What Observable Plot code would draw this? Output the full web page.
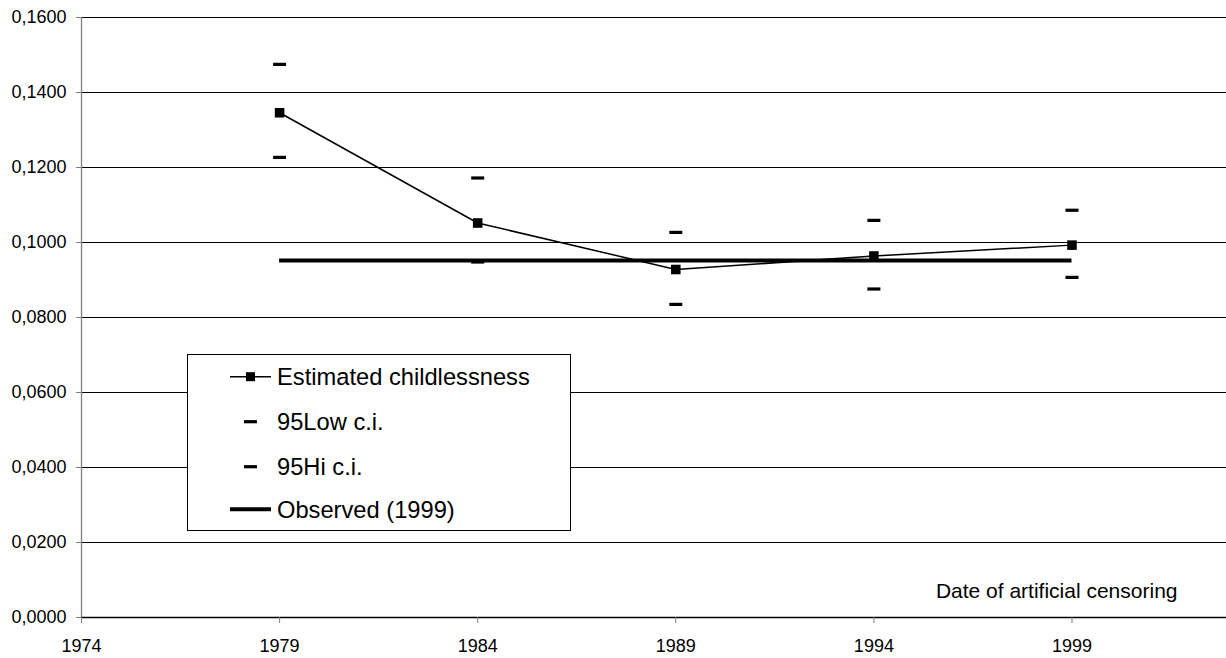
<!DOCTYPE html>
<html>
<head>
<meta charset="utf-8">
<script src="https://cdn.jsdelivr.net/npm/d3@7"></script>
<script src="https://cdn.jsdelivr.net/npm/@observablehq/plot@0.6"></script>
<style>
  html, body { margin: 0; padding: 0; background: #fff; }
  #chart { position: relative; width: 1226px; height: 658px; }
</style>
</head>
<body>
<div id="chart"></div>
<script>
// ---- data ----
const years = [1979, 1984, 1989, 1994, 1999];
const estimated = [0.1346, 0.1052, 0.0928, 0.0964, 0.0993];
const low95 = [0.1227, 0.0948, 0.0835, 0.0876, 0.0907];
const hi95 = [0.1475, 0.1172, 0.1027, 0.1059, 0.1086];
const observed1999 = 0.0952;
const xTicks = [1974, 1979, 1984, 1989, 1994, 1999];
const xDomain = [1974, 2002.9];
const yTicks = [0, 0.02, 0.04, 0.06, 0.08, 0.10, 0.12, 0.14, 0.16];
const seriesNames = ["Estimated childlessness", "95Low c.i.", "95Hi c.i.", "Observed (1999)"];
const axisLabel = "Date of artificial censoring";

const rows = years.map((yr, i) => ({year: yr, est: estimated[i], lo: low95[i], hi: hi95[i]}));

const dash = { draw(context) { context.rect(-6.5, -1.6, 13, 3.2); } };
const fmt = v => d3.format(".4f")(v).replace(".", ",");
const FONT = "'Liberation Sans', Arial, Helvetica, sans-serif";

const plot = Plot.plot({
  width: 1226,
  height: 658,
  marginLeft: 81,
  marginRight: 0,
  marginTop: 17,
  marginBottom: 41,
  style: { fontFamily: FONT, fontSize: "18px", color: "#000", background: "#fff" },
  x: { type: "linear", domain: xDomain },
  y: { domain: [0, 0.16] },
  marks: [
    Plot.gridY(yTicks, { stroke: "#000", strokeOpacity: 1, strokeWidth: 1 }),
    Plot.ruleX([xDomain[0]], { stroke: "#808080", strokeWidth: 1.3 }),
    Plot.ruleY([0], { stroke: "#000", strokeWidth: 1.3 }),
    Plot.axisY(yTicks, { tickFormat: fmt, tickSize: 5, tickPadding: 10, stroke: "#808080", label: null, fontSize: 18 }),
    Plot.axisX(xTicks, { tickFormat: d => String(d), tickSize: 6, tickPadding: 16, stroke: "#808080", label: null, fontSize: 18 }),
    Plot.ruleY([observed1999], { x1: years[0], x2: years[years.length - 1], stroke: "#000", strokeWidth: 4 }),
    Plot.line(rows, { x: "year", y: "est", stroke: "#000", strokeWidth: 1.5 }),
    Plot.dot(rows, { x: "year", y: "est", symbol: "square", r: 5.4, fill: "#000", stroke: "none" }),
    Plot.dot(rows, { x: "year", y: "lo", symbol: dash, fill: "#000", stroke: "none" }),
    Plot.dot(rows, { x: "year", y: "hi", symbol: dash, fill: "#000", stroke: "none" }),
    Plot.text([axisLabel], { frameAnchor: "bottom-right", textAnchor: "end", lineAnchor: "bottom", dx: -49, dy: -20, fontSize: 21, fill: "#000" })
  ]
});
document.getElementById("chart").appendChild(plot);

// ---- legend (drawn into the svg) ----
const svg = d3.select(plot);
const lg = svg.append("g").attr("font-family", FONT).attr("font-size", 23.7).attr("text-anchor", "start");
lg.append("rect").attr("x", 187.5).attr("y", 354.5).attr("width", 383).attr("height", 176)
  .attr("fill", "#fff").attr("stroke", "#000").attr("stroke-width", 1);
const rowY = [376.7, 421.7, 466.7, 509.3];
const symX0 = 230, symX1 = 271, symC = 250.5, textX = 277;
// Estimated
lg.append("line").attr("x1", symX0).attr("x2", symX1).attr("y1", rowY[0]).attr("y2", rowY[0]).attr("stroke", "#000").attr("stroke-width", 1.5);
lg.append("rect").attr("x", symC - 4.5).attr("y", rowY[0] - 4.5).attr("width", 9).attr("height", 9).attr("fill", "#000");
// Low / Hi dashes
[1, 2].forEach(i => lg.append("rect").attr("x", symC - 6.5).attr("y", rowY[i] - 1.6).attr("width", 13).attr("height", 3.2).attr("fill", "#000"));
// Observed
lg.append("line").attr("x1", symX0).attr("x2", symX1).attr("y1", rowY[3]).attr("y2", rowY[3]).attr("stroke", "#000").attr("stroke-width", 4);
seriesNames.forEach((name, i) => {
  lg.append("text").attr("x", textX).attr("y", rowY[i]).attr("dy", "0.35em").attr("text-anchor", "start").attr("fill", "#000").text(name);
});
</script>
</body>
</html>
